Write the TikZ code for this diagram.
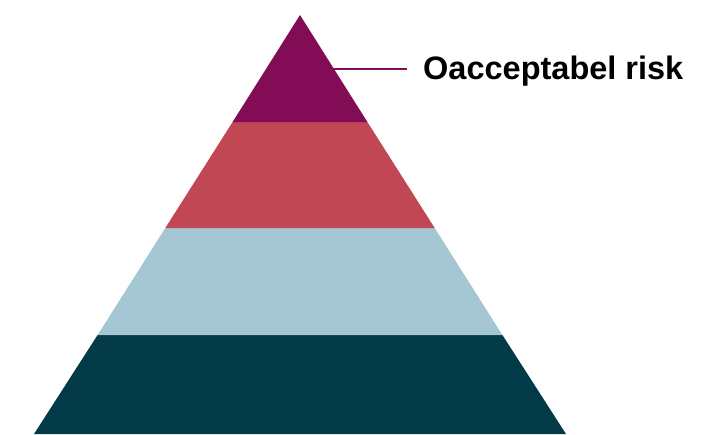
\documentclass[tikz,border=0pt]{standalone}
\usepackage{fontspec}
\setmainfont{Liberation Sans}
\usepackage{tikz}
\definecolor{toplayer}{RGB}{130,12,85}
\definecolor{redlayer}{RGB}{192,71,83}
\definecolor{bluelayer}{RGB}{164,199,211}
\definecolor{darklayer}{RGB}{2,58,72}

\begin{document}
\begin{tikzpicture}[x=1pt,y=-1pt,font=\fontsize{32.5}{36}\selectfont\bfseries]
\useasboundingbox (0,0) rectangle (723,434);
\fill[darklayer] (97.6,335) -- (502.4,335) -- (566,434) -- (34,434) -- cycle;
\fill[bluelayer] (165.3,228) -- (434.7,228) -- (502.4,335) -- (97.6,335) -- cycle;
\fill[redlayer] (232.6,122) -- (367.4,122) -- (434.7,228) -- (165.3,228) -- cycle;
\fill[toplayer] (300,15) -- (367.4,122) -- (232.6,122) -- cycle;
\coordinate (tip) at (333,69);
\node[anchor=base west,inner xsep=16pt,inner ysep=0pt] (risk) at (407,79) {Oacceptabel risk};
\draw[toplayer,line width=2.6pt] (tip) -- (tip -| risk.west);
\end{tikzpicture}
\end{document}
